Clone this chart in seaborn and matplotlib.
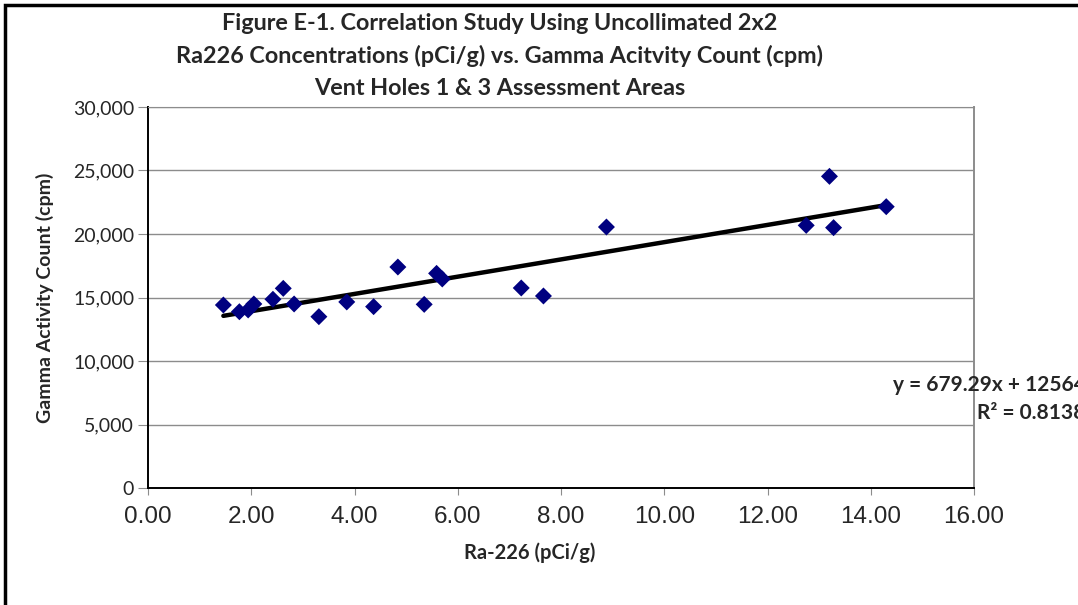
import numpy as np
import pandas as pd
import matplotlib
matplotlib.use('Agg')
from matplotlib import pyplot as plt
from matplotlib.ticker import FuncFormatter, MultipleLocator
from matplotlib.patches import Rectangle
import seaborn as sns

# data
ra226 = [1.46, 1.77, 1.94, 2.05, 2.42, 2.62, 2.83, 3.31, 3.85, 4.37, 4.84,
         5.35, 5.59, 5.70, 7.23, 7.66, 8.88, 12.75, 13.20, 13.28, 14.30]
gamma = [14410, 13880, 14020, 14490, 14860, 15720, 14490, 13490, 14650, 14280, 17400,
         14460, 16900, 16460, 15750, 15120, 20550, 20680, 24540, 20500, 22150]
slope = 679.29
intercept = 12564
r2 = 0.8138

df = pd.DataFrame({'ra': ra226, 'cpm': gamma})
trend = pd.DataFrame({'ra': [min(ra226), max(ra226)]})
trend['cpm'] = slope * trend['ra'] + intercept

sns.set_style('white')
plt.rcParams['font.family'] = ['Lato', 'DejaVu Sans']

fig = plt.figure(figsize=(10.78, 6.05), dpi=100)
ax = fig.add_axes([148/1078, 117/605, (974-148)/1078, (488-107)/605])

sns.scatterplot(data=df, x='ra', y='cpm', marker='D', s=75, color='#000080',
                edgecolor='none', ax=ax, zorder=3)
sns.lineplot(data=trend, x='ra', y='cpm', color='black', lw=3.2, ax=ax, zorder=2)

ax.set_xlim(0, 16)
ax.set_ylim(0, 30000)
ax.xaxis.set_major_locator(MultipleLocator(2))
ax.yaxis.set_major_locator(MultipleLocator(5000))
ax.xaxis.set_major_formatter(FuncFormatter(lambda v, p: '%.2f' % v))
ax.yaxis.set_major_formatter(FuncFormatter(lambda v, p: '{:,.0f}'.format(v)))
ax.grid(axis='y', color='#8c8c8c', lw=1)
ax.set_axisbelow(True)
for s in ['left', 'bottom']:
    ax.spines[s].set_color('black')
    ax.spines[s].set_linewidth(1.4)
ax.spines['top'].set_color('#8c8c8c')
ax.spines['right'].set_color('#8c8c8c')
ax.spines['right'].set_linewidth(1.4)
ax.tick_params(axis='x', labelsize=17.5, length=5, color='#8c8c8c', direction='out', pad=8)
ax.tick_params(axis='y', labelsize=14, length=7, color='#8c8c8c', direction='out', pad=3)
ax.tick_params(bottom=True, left=True)
for lbl in ax.get_xticklabels():
    lbl.set_family('Liberation Sans')

ax.set_xlabel('Ra-226 (pCi/g)', fontsize=14.5, fontweight='bold')
ax.set_ylabel('Gamma Activity Count (cpm)', fontsize=14, fontweight='bold')
ax.xaxis.set_label_coords((530-148)/826, (488-553)/381)
ax.yaxis.set_label_coords((45-148)/826, 0.5)
ax.xaxis.label.set_va('center')
ax.yaxis.label.set_va('center')

title = ('Figure E-1. Correlation Study Using Uncollimated 2x2\n'
         'Ra226 Concentrations (pCi/g) vs. Gamma Acitvity Count (cpm)\n'
         'Vent Holes 1 & 3 Assessment Areas')
fig.text(500/1078, 1 - 56/605, title, ha='center', va='center', fontsize=16.8,
         fontweight='bold', linespacing=1.62)

# equation label runs past the right edge, as in the original export
eq = 'y = %.2fx + %d\nR² = %.4f' % (slope, intercept, r2)
fig.text(893/1078, 1 - 399/605, eq, ha='left', va='center', fontsize=15,
         fontweight='bold', multialignment='right', linespacing=1.45)

fig.patches.append(Rectangle((5/1078, -0.1), 1.2, 1 - 5/605 + 0.1, transform=fig.transFigure,
                             fill=False, edgecolor='black', lw=2.5, zorder=10))

fig.savefig('out.png', dpi=100)
